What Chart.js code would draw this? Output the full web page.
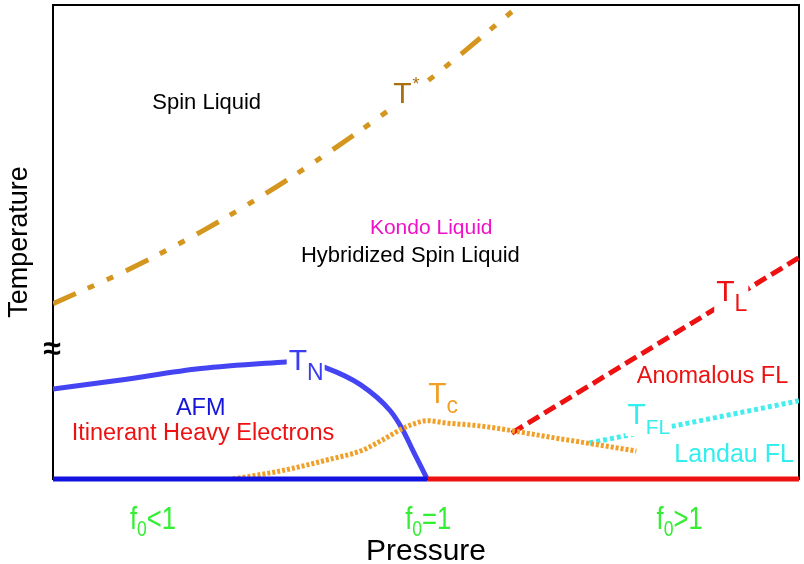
<!DOCTYPE html>
<html><head><meta charset="utf-8">
<script src="https://cdn.jsdelivr.net/npm/chart.js@4.4.0/dist/chart.umd.min.js"></script>
<style>html,body{margin:0;padding:0;background:#fff}canvas{display:block}</style>
</head><body>
<canvas id="c" width="804" height="564"></canvas>
<script>
// ---- data (pressure / temperature in arbitrary units, 0..10) ----
const tStarX = [0, 1, 2, 3, 4, 5, 6.26];
const tStarY = [3.70, 4.41, 5.23, 6.17, 7.22, 8.37, 10.0];

const tNX = [0, 0.91, 1.98, 3.12, 3.32, 3.65, 4.12, 4.52, 4.68, 4.84, 5.01];
const tNY = [1.90, 2.09, 2.33, 2.47, 2.49, 2.35, 1.99, 1.44, 1.06, 0.55, 0.02];

const tcX = [2.41, 3.05, 3.72, 4.12, 4.39, 4.68, 4.83, 5.01, 5.28, 5.72, 6.79, 7.23, 7.82];
const tcY = [0, 0.17, 0.42, 0.59, 0.80, 1.06, 1.16, 1.23, 1.18, 1.12, 0.85, 0.74, 0.59];

const tLX = [6.15, 10];
const tLY = [0.97, 4.67];

const tFLX = [7.19, 10];
const tFLY = [0.76, 1.65];

const afmBaseX = [0, 5.02];
const flBaseX = [5.02, 10];
const baseY = [0, 0];

// region labels
const regionText = ["Spin Liquid", "Kondo Liquid", "Hybridized Spin Liquid", "Anomalous FL", "AFM", "Itinerant Heavy Electrons", "Landau FL"];
const regionX = [2.06, 5.07, 4.79, 8.84, 1.98, 2.01, 9.13];
const regionY = [7.93, 5.29, 4.71, 2.16, 1.48, 0.97, 0.51];
const regionSize = [22, 21, 22, 23.5, 23.5, 23.5, 25];
const regionColor = ["#000000", "#f010c8", "#000000", "#ee1111", "#1515d8", "#ee1111", "#33eeee"];

// curve labels (T with subscript / superscript)
const curveMain = ["T", "T", "T", "T", "T"];
const curveSub = ["", "N", "c", "L", "FL"];
const curveSup = ["*", "", "", "", ""];
const curveX = [4.56, 3.16, 5.03, 8.89, 7.70];
const curveY = [7.93, 2.30, 1.61, 3.76, 1.16];
const curveColor = ["#a8700f", "#3c3cf0", "#f0a028", "#ee1111", "#33eeee"];

// f0 regime labels under the axis
const regimeRest = ["<1", "=1", ">1"];
const regimeX = [1.34, 5.03, 8.40];

const xTitle = "Pressure";
const yTitle = "Temperature";

const FONT = '"Liberation Sans", Arial, Helvetica, sans-serif';
const pts = (xs, ys) => xs.map((x, i) => ({x: x, y: ys[i]}));

const deco = {
  id: 'deco',
  beforeDatasetsDraw(chart) {
    const {ctx, chartArea: a} = chart;
    ctx.save();
    ctx.strokeStyle = '#000'; ctx.lineWidth = 2;
    ctx.strokeRect(a.left, a.top, a.right - a.left, a.bottom - a.top);
    ctx.restore();
  },
  afterDatasetsDraw(chart) {
    const {ctx, chartArea: a, scales} = chart;
    const X = v => scales.x.getPixelForValue(v);
    const Y = v => scales.y.getPixelForValue(v);
    ctx.save();
    // region labels
    ctx.textAlign = 'center'; ctx.textBaseline = 'middle';
    regionText.forEach((t, i) => {
      ctx.font = `${regionSize[i]}px ${FONT}`;
      ctx.fillStyle = regionColor[i];
      ctx.fillText(t, X(regionX[i]), Y(regionY[i]));
    });
    // curve labels
    ctx.textAlign = 'left'; ctx.textBaseline = 'alphabetic';
    curveMain.forEach((m, i) => {
      const x0 = X(curveX[i]), b = Y(curveY[i]);
      ctx.font = `30px ${FONT}`;
      const wT = ctx.measureText(m).width;
      const subSize = curveSub[i] === 'FL' ? 21 : 23;
      ctx.font = `${subSize}px ${FONT}`;
      const wS = curveSub[i] ? ctx.measureText(curveSub[i]).width : 0;
      ctx.font = `18px ${FONT}`;
      const wP = curveSup[i] ? ctx.measureText(curveSup[i]).width : 0;
      ctx.fillStyle = '#fff';
      ctx.fillRect(x0 - 2, b - 25, wT + Math.max(wS, wP) + 3, curveSub[i] ? 37 : 28);
      ctx.fillStyle = curveColor[i];
      ctx.font = `30px ${FONT}`;
      ctx.fillText(m, x0, b);
      if (curveSub[i]) { ctx.font = `${subSize}px ${FONT}`; ctx.fillText(curveSub[i], x0 + wT, b + 10); }
      if (curveSup[i]) { ctx.font = `18px ${FONT}`; ctx.fillText(curveSup[i], x0 + wT + 1, b - 13); }
    });
    // break mark on temperature axis
    ctx.fillStyle = '#000'; ctx.textAlign = 'center'; ctx.textBaseline = 'middle';
    ctx.font = `bold 32px ${FONT}`;
    ctx.fillText('\u2248', a.left - 1, Y(2.72));
    // f0 labels (condensed)
    ctx.fillStyle = '#33ee33'; ctx.textAlign = 'left'; ctx.textBaseline = 'alphabetic';
    const sx = 0.8;
    regimeRest.forEach((r, i) => {
      ctx.font = `32px ${FONT}`; const wf = ctx.measureText('f').width; const wr = ctx.measureText(r).width;
      ctx.font = `22px ${FONT}`; const w0 = ctx.measureText('0').width;
      const tot = (wf + w0 + wr) * sx;
      ctx.save();
      ctx.translate(X(regimeX[i]) - tot / 2, a.bottom + 50);
      ctx.scale(sx, 1);
      ctx.font = `32px ${FONT}`; ctx.fillText('f', 0, 0);
      ctx.font = `22px ${FONT}`; ctx.fillText('0', wf, 7);
      ctx.font = `32px ${FONT}`; ctx.fillText(r, wf + w0, 0);
      ctx.restore();
    });
    // axis titles
    ctx.fillStyle = '#000';
    ctx.textAlign = 'center'; ctx.textBaseline = 'alphabetic';
    ctx.font = `30px ${FONT}`;
    ctx.fillText(xTitle, (a.left + a.right) / 2, 560);
    ctx.font = `27px ${FONT}`;
    ctx.translate(27, (a.top + a.bottom) / 2);
    ctx.rotate(-Math.PI / 2);
    ctx.fillText(yTitle, 0, 0);
    ctx.restore();
  }
};

new Chart(document.getElementById('c'), {
  type: 'line',
  data: {
    datasets: [
      {data: pts(afmBaseX, baseY), borderColor: '#1212e0', borderWidth: 5, clip: false, order: 0},
      {data: pts(flBaseX, baseY), borderColor: '#ee1111', borderWidth: 5, clip: false, order: 0},
      {data: pts(tStarX, tStarY), borderColor: '#d4961e', borderWidth: 5, borderDash: [25, 13, 7, 14, 7, 14], cubicInterpolationMode: 'monotone', order: 3},
      {data: pts(tNX, tNY), borderColor: '#4444f2', borderWidth: 5, cubicInterpolationMode: 'monotone', order: 2},
      {data: pts(tcX, tcY), borderColor: '#f0a028', borderWidth: 5, borderDash: [3, 2], cubicInterpolationMode: 'monotone', order: 1},
      {data: pts(tLX, tLY), borderColor: '#ee1111', borderWidth: 5, borderDash: [13, 6], order: 3},
      {data: pts(tFLX, tFLY), borderColor: '#44eeee', borderWidth: 5, borderDash: [4, 3], order: 1}
    ]
  },
  options: {
    responsive: false, animation: false, devicePixelRatio: 1,
    layout: {padding: {left: 53, right: 5, top: 5, bottom: 85}},
    elements: {point: {radius: 0}, line: {fill: false, borderCapStyle: 'butt'}},
    plugins: {legend: {display: false}, tooltip: {enabled: false}},
    scales: {
      x: {type: 'linear', min: 0, max: 10, display: false},
      y: {type: 'linear', min: 0, max: 10, display: false}
    }
  },
  plugins: [deco]
});
</script>
</body></html>
